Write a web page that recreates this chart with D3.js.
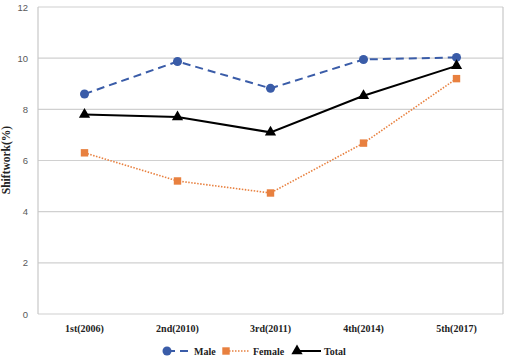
<!DOCTYPE html>
<html>
<head>
<meta charset="utf-8">
<script src="https://cdn.jsdelivr.net/npm/d3@7"></script>
<style>
  body { margin: 0; background: #fff; }
  svg { display: block; }
</style>
</head>
<body>
<svg></svg>
<script>
const width = 507;
const height = 357;

const waves = ['1st(2006)', '2nd(2010)', '3rd(2011)', '4th(2014)', '5th(2017)'];
const male = [8.6, 9.87, 8.82, 9.95, 10.03];
const female = [6.3, 5.2, 4.73, 6.68, 9.2];
const total = [7.8, 7.7, 7.1, 8.53, 9.7];
const yTicks = [0, 2, 4, 6, 8, 10, 12];

const plotLeft = 38, plotRight = 503, plotTop = 7, plotBottom = 314;

const svg = d3.select('svg')
    .attr('width', width)
    .attr('height', height);

const xScale = d3.scaleBand()
    .domain(waves)
    .range([plotLeft, plotRight]);

const yScale = d3.scaleLinear()
    .domain([0, 12])
    .range([plotBottom, plotTop]);

// grid lines
svg.append('g')
    .selectAll('line')
    .data(yTicks)
    .enter()
  .append('line')
    .attr('x1', plotLeft)
    .attr('x2', plotRight)
    .attr('y1', d => yScale(d))
    .attr('y2', d => yScale(d))
    .attr('stroke', '#d0d0d0')
    .attr('stroke-width', 1.2);

// frame sides
svg.append('line')
    .attr('x1', plotLeft).attr('x2', plotLeft)
    .attr('y1', plotTop).attr('y2', plotBottom)
    .attr('stroke', '#c8c8c8').attr('stroke-width', 1.2);
svg.append('line')
    .attr('x1', plotRight).attr('x2', plotRight)
    .attr('y1', plotTop).attr('y2', plotBottom)
    .attr('stroke', '#c8c8c8').attr('stroke-width', 1.2);

const yAxis = d3.axisLeft(yScale)
    .tickValues(yTicks)
    .tickSize(0)
    .tickPadding(10);

svg.append('g')
    .attr('transform', `translate(${plotLeft}, 0)`)
    .call(yAxis)
    .call(g => g.select('.domain').remove())
    .selectAll('text')
        .attr('fill', '#595959')
        .style('font-family', 'Liberation Sans, Arial, sans-serif')
        .style('font-size', '9.5px');

const xAxis = d3.axisBottom(xScale)
    .tickSize(0)
    .tickPadding(11);

svg.append('g')
    .attr('transform', `translate(0, ${plotBottom})`)
    .call(xAxis)
    .call(g => g.select('.domain').remove())
    .selectAll('text')
        .attr('fill', '#222')
        .style('font-family', 'Liberation Serif, Times New Roman, serif')
        .style('font-weight', 'bold')
        .style('font-size', '10px');

svg.append('text')
    .attr('transform', 'rotate(-90)')
    .attr('x', -160)
    .attr('y', 10)
    .style('text-anchor', 'middle')
    .style('font-family', 'Liberation Serif, Times New Roman, serif')
    .style('font-weight', 'bold')
    .style('font-size', '11.5px')
    .attr('fill', '#222')
    .text('Shiftwork(%)');

const cx = (d, i) => xScale(waves[i]) + xScale.bandwidth() / 2;
const line = d3.line()
    .x((d, i) => cx(d, i))
    .y(d => yScale(d));

const series = [
    { name: 'Male', values: male, color: '#3a5ca8', dash: '8,5', width: 2, shape: d3.symbolCircle, size: 64 },
    { name: 'Female', values: female, color: '#e8803f', dash: '1.5,1.5', width: 1.6, shape: d3.symbolSquare, size: 55 },
    { name: 'Total', values: total, color: '#000', dash: null, width: 2, shape: d3.symbolTriangle, size: 55 }
];

series.forEach(s => {
    svg.append('path')
        .datum(s.values)
        .attr('d', line)
        .attr('fill', 'none')
        .attr('stroke', s.color)
        .attr('stroke-width', s.width)
        .attr('stroke-dasharray', s.dash);

    svg.append('g')
        .selectAll('path')
        .data(s.values)
        .enter()
      .append('path')
        .attr('transform', (d, i) => `translate(${cx(d, i)}, ${yScale(d)})`)
        .attr('d', d3.symbol().type(s.shape).size(s.size))
        .attr('fill', s.color);
});

// legend
const legendX = [167, 226, 297];
const legendY = 351;
const legend = svg.append('g');
series.forEach((s, i) => {
    const x = legendX[i];
    legend.append('line')
        .attr('x1', x).attr('x2', x + 24)
        .attr('y1', legendY).attr('y2', legendY)
        .attr('stroke', s.color)
        .attr('stroke-width', s.width)
        .attr('stroke-dasharray', s.dash);
    legend.append('path')
        .attr('transform', `translate(${x}, ${legendY})`)
        .attr('d', d3.symbol().type(s.shape).size(s.size))
        .attr('fill', s.color);
    legend.append('text')
        .attr('x', x + 27)
        .attr('y', legendY + 3.5)
        .style('font-family', 'Liberation Serif, Times New Roman, serif')
        .style('font-weight', 'bold')
        .style('font-size', '10px')
        .attr('fill', '#222')
        .text(s.name);
});
</script>
</body>
</html>
